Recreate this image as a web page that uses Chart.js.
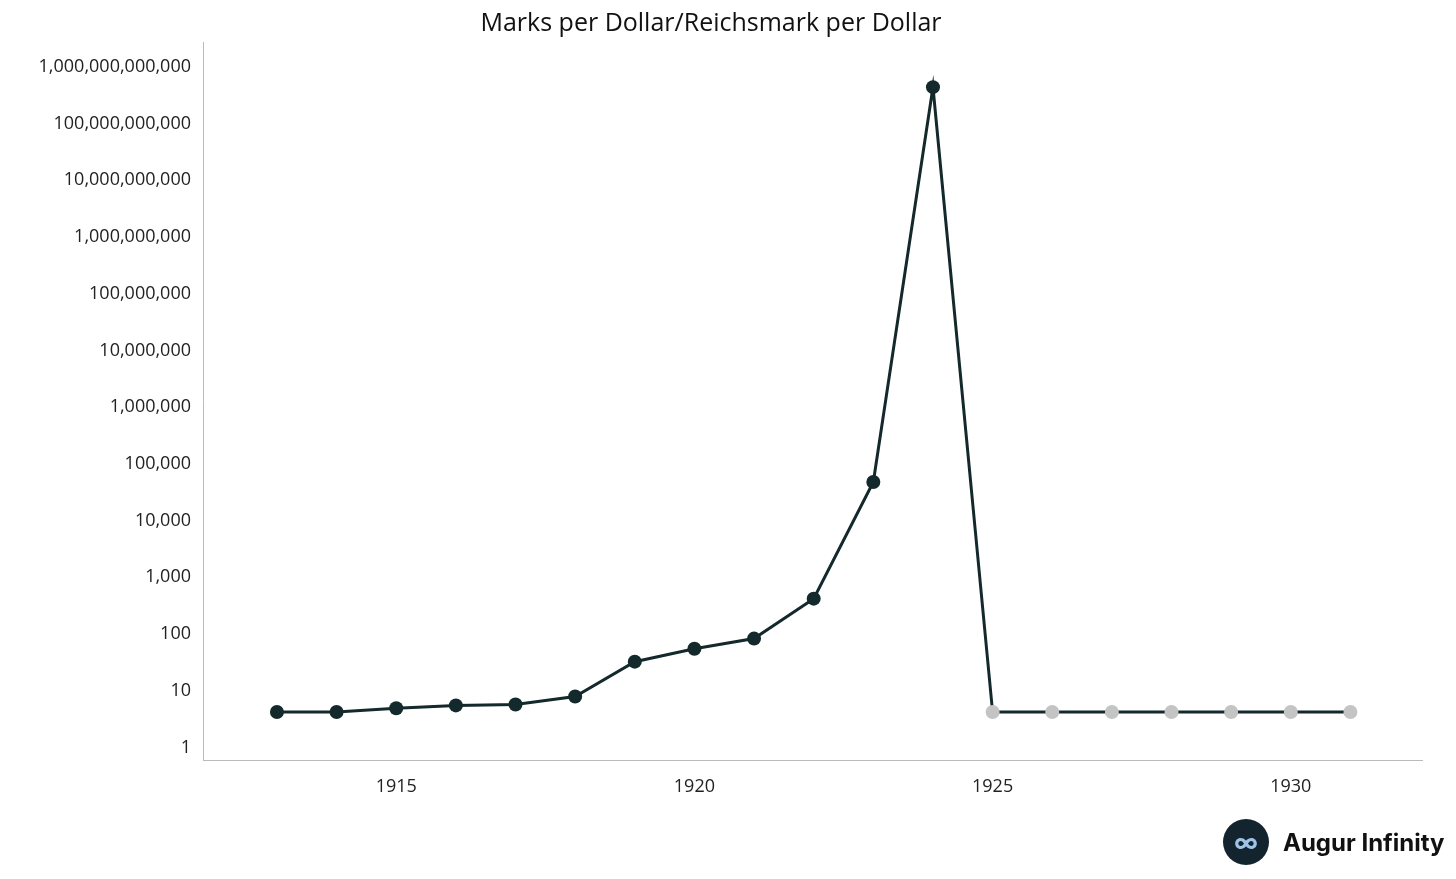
<!DOCTYPE html>
<html><head><meta charset="utf-8">
<script src="https://cdn.jsdelivr.net/npm/chart.js@4"></script>
<style>
html,body{margin:0;padding:0;background:#fff;}
#wrap{position:relative;width:1456px;height:879px;}
#logo{position:absolute;left:1223px;top:819px;display:flex;align-items:center;font-family:Inter,Lato,sans-serif;font-weight:700;font-size:24px;color:#111;}
#logo .c{width:46px;height:46px;border-radius:50%;background:#13242f;display:flex;align-items:center;justify-content:center;margin-right:14px;color:#fff;font-size:24px;}
</style></head><body>
<div id="wrap"><canvas id="c" width="1456" height="879"></canvas>
<div id="logo"><div class="c"><span style="color:#9fc3e6">∞</span></div>Augur Infinity</div></div>
<script>
const years=[1913,1914,1915,1916,1917,1918,1919,1920,1921,1922,1923,1924,1925,1926,1927,1928,1929,1930,1931];
const marksPerDollar=[4.2,4.2,4.9,5.5,5.7,7.9,32.5,55,83,420,48000,4.4e11,4.2,4.2,4.2,4.2,4.2,4.2,4.2];
const isReichsmark=[0,0,0,0,0,0,0,0,0,0,0,0,1,1,1,1,1,1,1];
const yTicks=[1,10,100,1e3,1e4,1e5,1e6,1e7,1e8,1e9,1e10,1e11,1e12];
const font="'Open Sans', Inter, sans-serif";
new Chart(document.getElementById('c'),{
type:'line',
data:{datasets:[{data:years.map((y,i)=>({x:y,y:marksPerDollar[i]})),
borderColor:'#13292b',borderWidth:3,pointRadius:7,pointHoverRadius:7,pointBorderWidth:0,
pointBackgroundColor:isReichsmark.map(r=>r?'#c4c4c4':'#13292b')}]},
options:{responsive:false,animation:false,
layout:{padding:{left:0,right:34,top:0,bottom:71}},
plugins:{legend:{display:false},tooltip:{enabled:false},
title:{display:true,text:'Marks per Dollar/Reichsmark per Dollar',color:'#111',font:{family:font,size:25,weight:'normal'},padding:{top:9,bottom:3}}},
scales:{
x:{type:'linear',min:1911.76,max:1932.2,grid:{display:false,drawTicks:true,tickLength:6,color:'#bbb'},border:{color:'#bbb'},
afterBuildTicks:a=>{a.ticks=[1915,1920,1925,1930].map(v=>({value:v}));},
ticks:{color:'#222',font:{family:font,size:18},padding:10,callback:v=>String(v)}},
y:{type:'logarithmic',min:0.59,max:2.75e12,grid:{display:false,drawTicks:true,tickLength:6,color:'#bbb'},border:{color:'#bbb'},
afterFit:a=>{a.width=203;},
afterBuildTicks:a=>{a.ticks=yTicks.map(v=>({value:v}));},
ticks:{color:'#222',font:{family:font,size:18},padding:6,callback:v=>Number(v).toLocaleString('en-US')}}
}}});
</script></body></html>
